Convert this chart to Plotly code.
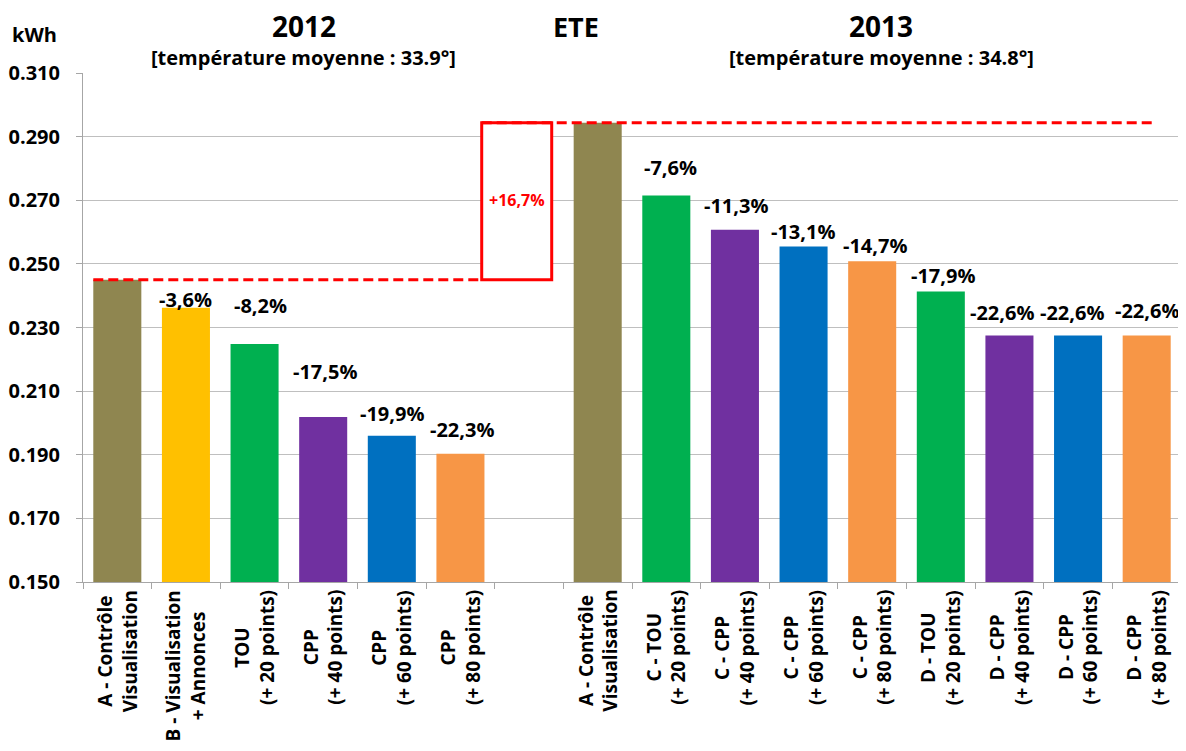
import plotly.graph_objects as go

# ---------------- data ----------------
categories_2012 = [
    "A - Contrôle<br>Visualisation",
    "B - Visualisation<br>+ Annonces",
    "TOU<br>(+ 20 points)",
    "CPP<br>(+ 40 points)",
    "CPP<br>(+ 60 points)",
    "CPP<br>(+ 80 points)",
]
values_2012 = [0.2450, 0.2362, 0.2248, 0.2019, 0.1960, 0.1903]
labels_2012 = ["", "-3,6%", "-8,2%", "-17,5%", "-19,9%", "-22,3%"]

categories_2013 = [
    "A - Contrôle<br>Visualisation",
    "C - TOU<br>(+ 20 points)",
    "C - CPP<br>(+ 40 points)",
    "C - CPP<br>(+ 60 points)",
    "C - CPP<br>(+ 80 points)",
    "D - TOU<br>(+ 20 points)",
    "D - CPP<br>(+ 40 points)",
    "D - CPP<br>(+ 60 points)",
    "D - CPP<br>(+ 80 points)",
]
values_2013 = [0.2944, 0.2715, 0.2607, 0.2555, 0.2508, 0.2413, 0.2275, 0.2275, 0.2275]
labels_2013 = ["", "-7,6%", "-11,3%", "-13,1%", "-14,7%", "-17,9%", "-22,6%", "-22,6%", "-22,6%"]

change_label = "+16,7%"
title_2012 = "2012"
subtitle_2012 = "[température moyenne : 33.9°]"
title_2013 = "2013"
subtitle_2013 = "[température moyenne : 34.8°]"
season = "ETE"
unit = "kWh"
y_ticks = [0.150, 0.170, 0.190, 0.210, 0.230, 0.250, 0.270, 0.290, 0.310]

# ---------------- styles ----------------
OLIVE, YELLOW, GREEN, PURPLE, BLUE, ORANGE = "#8F8650", "#FFC000", "#00B050", "#7030A0", "#0070C0", "#F79646"
colors_2012 = [OLIVE, YELLOW, GREEN, PURPLE, BLUE, ORANGE]
colors_2013 = [OLIVE, GREEN, PURPLE, BLUE, ORANGE, GREEN, PURPLE, BLUE, ORANGE]
# label offsets in pixels (dx, dy above bar top)
offs_2012 = [(0, 0), (0, 8), (6, 39), (2, 45), (0, 22), (2, 24)]
offs_2013 = [(0, 0), (4, 28), (1, 24), (-1, 15), (3, 16), (2, 16), (-7, 23), (-6, 23), (0, 25)]
FONT = "Open Sans"
RED = "#FF0000"
# the page body adds an 8px margin; compensate so the chart sits like the reference
PAGE = 8
W, H = 1186 - PAGE, 751 - PAGE
L, T, R, B = 83 - PAGE, 73 - PAGE, 5, 169

x_2012 = list(range(len(categories_2012)))
gap = len(categories_2012)
x_2013 = [gap + 1 + i for i in range(len(categories_2013))]
tickvals = x_2012 + [gap] + x_2013

fig = go.Figure()
fig.add_trace(go.Bar(x=x_2012, y=values_2012, width=0.7,
                     marker=dict(color=colors_2012, line=dict(width=0)),
                     showlegend=False, hoverinfo="y"))
fig.add_trace(go.Bar(x=x_2013, y=values_2013, width=0.7,
                     marker=dict(color=colors_2013, line=dict(width=0)),
                     showlegend=False, hoverinfo="y"))

annotations = []
for xs, vs, ls, offs in [(x_2012, values_2012, labels_2012, offs_2012),
                         (x_2013, values_2013, labels_2013, offs_2013)]:
    for x, v, l, (dx, dy) in zip(xs, vs, ls, offs):
        if not l:
            continue
        annotations.append(dict(x=x, y=v, xref="x", yref="y", text=l, showarrow=False,
                                xanchor="center", yanchor="middle", xshift=dx, yshift=dy,
                                font=dict(family=FONT, size=20, color="black", weight="bold")))

# category labels (rotated, centred lines)
for xs, cats in [(x_2012, categories_2012), (x_2013, categories_2013)]:
    for x, c in zip(xs, cats):
        annotations.append(dict(x=x, y=0, xref="x", yref="paper", text=c, showarrow=False,
                                textangle=-90, align="center", xanchor="center", yanchor="top",
                                yshift=-6,
                                font=dict(family=FONT, size=19, color="black", weight="bold")))

box_x0, box_x1 = 5.31, 6.33
fig.add_shape(type="rect", xref="x", yref="y", x0=box_x0, x1=box_x1,
              y0=values_2012[0], y1=values_2013[0],
              line=dict(color=RED, width=3), fillcolor="white", layer="above")
fig.add_shape(type="line", xref="x", yref="y", x0=-0.35, x1=box_x0,
              y0=values_2012[0], y1=values_2012[0],
              line=dict(color=RED, width=3, dash="10px,5px"), layer="above")
fig.add_shape(type="line", xref="x", yref="y", x0=box_x0, x1=15.1,
              y0=values_2013[0], y1=values_2013[0],
              line=dict(color=RED, width=3, dash="10px,5px"), layer="above")

annotations.append(dict(x=(box_x0 + box_x1) / 2, y=(values_2012[0] + values_2013[0]) / 2,
                        xref="x", yref="y", text=change_label, showarrow=False,
                        yshift=1,
                        font=dict(family=FONT, size=16, color=RED, weight="bold")))

# titles
for txt, xx, yy, sz in [(title_2012, 2.72, 1.092, 28), (subtitle_2012, 2.72, 1.030, 20),
                        (season, 6.68, 1.092, 27), (title_2013, 11.13, 1.092, 28),
                        (subtitle_2013, 11.13, 1.030, 20)]:
    annotations.append(dict(x=xx, y=yy, xref="x", yref="paper", text=txt, showarrow=False,
                            xanchor="center", yanchor="middle", borderpad=0,
                            font=dict(family=FONT, size=sz, color="black", weight="bold")))
annotations.append(dict(x=-0.044, y=1.075, xref="paper", yref="paper", text=unit, showarrow=False,
                        xanchor="center", yanchor="middle",
                        font=dict(family=FONT, size=20, color="black", weight="bold")))

fig.update_layout(
    width=W, height=H,
    margin=dict(l=L, r=R, t=T, b=B, autoexpand=False),
    plot_bgcolor="white", paper_bgcolor="white",
    template="none",
    bargap=0.3,
    annotations=annotations,
    font=dict(family=FONT, color="black"),
)
fig.update_xaxes(
    range=[-0.5, 15.5], tickmode="array", tickvals=tickvals,
    showticklabels=False, ticks="", showgrid=False, zeroline=False,
    showline=True, linecolor="#A6A6A6", linewidth=1, automargin=False,
    minor=dict(tickmode="array", tickvals=[i - 0.5 for i in range(17)],
               ticks="outside", ticklen=6, tickcolor="#A6A6A6", tickwidth=1, showgrid=False),
)
fig.update_yaxes(
    range=[0.150, 0.310], tickmode="array", tickvals=y_ticks,
    tickformat=".3f", showgrid=True, gridcolor="#BFBFBF", gridwidth=1,
    zeroline=False, showline=True, linecolor="#A6A6A6", linewidth=1,
    ticks="outside", ticklen=6, tickcolor="#A6A6A6",
    tickfont=dict(family=FONT, size=20, color="black", weight="bold"),
    ticklabelstandoff=12, automargin=False,
)

fig.write_html("out.html")
